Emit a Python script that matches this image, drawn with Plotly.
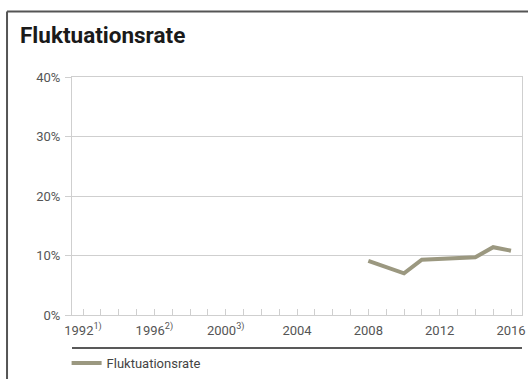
import plotly.graph_objects as go

# Turnover rate by year (percent)
years = [2008, 2009, 2010, 2011, 2012, 2013, 2014, 2015, 2016]
rate = [9.1, 8.05, 7.0, 9.3, 9.45, 9.55, 9.7, 11.4, 10.8]

# Labelled years on the x axis (every year also gets a minor tick)
label_years = [1992, 1996, 2000, 2004, 2008, 2012, 2016]
label_text = ["1992<sup>1)</sup>", "1996<sup>2)</sup>", "2000<sup>3)</sup>",
              "2004", "2008", "2012", "2016"]

y_ticks = [0, 10, 20, 30, 40]
y_text = [f"{v}%" for v in y_ticks]

FONT = "Roboto"
GRID = "#cfcfcf"
LINE = "#9b9880"

fig = go.Figure()
fig.add_trace(go.Scatter(
    x=years, y=rate, mode="lines", name="Fluktuationsrate",
    line=dict(color=LINE, width=4),
))

fig.update_layout(
    width=528, height=379,
    margin=dict(l=72, r=6, t=77, b=64, autoexpand=False),
    paper_bgcolor="white", plot_bgcolor="white",
    font=dict(family=FONT, size=13, color="#555555"),
    title=dict(
        text="<b>Fluktuationsrate</b>",
        x=20 / 528, xanchor="left", xref="container",
        y=1 - 35 / 379, yanchor="middle", yref="container",
        font=dict(family=FONT, size=22.5, color="#1a1a1a"),
    ),
    showlegend=True,
    legend=dict(
        orientation="h", x=-0.012, xanchor="left",
        y=-0.2017, yanchor="middle",
        font=dict(family=FONT, size=13, color="#444444"),
        bgcolor="rgba(0,0,0,0)",
    ),
    xaxis=dict(
        range=[1991.383, 2016.617],
        tickmode="array", tickvals=label_years, ticktext=label_text,
        ticks="inside", ticklen=6, tickcolor=GRID, tickwidth=1,
        minor=dict(ticks="inside", ticklen=6, tickcolor=GRID, tickwidth=1,
                   tick0=1992, dtick=1, showgrid=False),
        ticklabelstandoff=3,
        showgrid=False, zeroline=False,
        showline=True, linecolor=GRID, linewidth=1, mirror=True,
        tickfont=dict(family=FONT, size=13, color="#555555"),
    ),
    yaxis=dict(
        range=[0, 40],
        tickmode="array", tickvals=y_ticks, ticktext=y_text,
        ticks="outside", ticklen=6, tickcolor=GRID, tickwidth=1,
        showgrid=True, gridcolor=GRID, gridwidth=1, zeroline=False,
        showline=True, linecolor=GRID, linewidth=1, mirror=True,
        ticklabelstandoff=2,
        tickfont=dict(family=FONT, size=13, color="#555555"),
    ),
    shapes=[
        # outer frame, open to the right and bottom
        dict(type="line", xref="paper", yref="paper",
             x0=-0.1444, x1=1.1, y0=1.275, y1=1.275,
             line=dict(color="#555555", width=2)),
        dict(type="line", xref="paper", yref="paper",
             x0=-0.1444, x1=-0.1444, y0=1.275, y1=-0.4,
             line=dict(color="#555555", width=2)),
        # rule above the legend
        dict(type="line", xref="paper", yref="paper",
             x0=0, x1=1, y0=-0.1387, y1=-0.1387,
             line=dict(color="#222222", width=1.5)),
    ],
)

fig.write_html("out.html")
